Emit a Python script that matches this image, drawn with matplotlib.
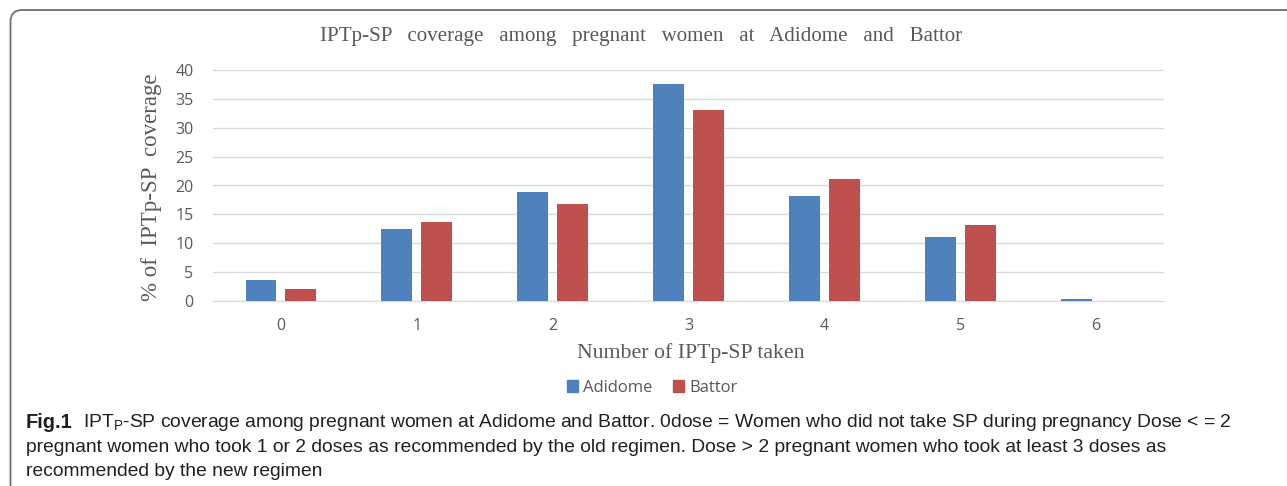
import numpy as np
import matplotlib
matplotlib.use('Agg')
from matplotlib import pyplot as plt
from matplotlib.patches import FancyBboxPatch, Patch

# data
doses = ['0', '1', '2', '3', '4', '5', '6']
adidome = [3.6, 12.4, 18.8, 37.5, 18.1, 11.0, 0.4]
battor = [2.0, 13.7, 16.8, 33.1, 21.1, 13.1, 0.0]
yticks = [0, 5, 10, 15, 20, 25, 30, 35, 40]

blue = '#4F81BD'
red = '#C0504D'
grey_text = '#595959'
serif = ['Liberation Serif', 'DejaVu Serif']
sans = ['Open Sans', 'DejaVu Sans']
narrow = ['Liberation Sans', 'DejaVu Sans']

plt.rcParams['mathtext.fontset'] = 'custom'
plt.rcParams['mathtext.rm'] = 'Liberation Sans'

fig = plt.figure(figsize=(12.87, 4.86), dpi=100)
W, H = 1287.0, 486.0

# rounded frame, only top and left visible
frame = FancyBboxPatch((10.5 / W, -0.2), 1.5, 1.2 - 10 / H,
                       boxstyle='round,pad=0,rounding_size=0.009',
                       transform=fig.transFigure, fill=False,
                       edgecolor='#6e6e6e', linewidth=1.3, mutation_aspect=W / H)
fig.patches.append(frame)

ax = fig.add_axes([213 / W, 1 - 301 / H, (1164 - 213) / W, (301 - 70) / H])
x = np.arange(len(doses))
w = 0.227
ax.bar(x - 0.147, adidome, w, color=blue, label='Adidome', zorder=3)
ax.bar(x + 0.147, battor, w, color=red, label='Battor', zorder=3)

ax.set_xlim(-0.5, 6.5)
ax.set_ylim(0, 40)
ax.set_yticks(yticks)
ax.set_xticks(x)
ax.set_xticklabels(doses)
ax.grid(axis='y', color='#D9D9D9', linewidth=1.0, zorder=0)
ax.set_axisbelow(True)
for s in ['top', 'right', 'left']:
    ax.spines[s].set_visible(False)
ax.spines['bottom'].set_color('#D9D9D9')
ax.tick_params(length=0, colors=grey_text, labelsize=11.5)
ax.tick_params(axis='y', pad=14)
ax.tick_params(axis='x', pad=12)
for lbl in ax.get_xticklabels() + ax.get_yticklabels():
    lbl.set_family(sans)

fig.text(641 / W, 1 - 37 / H,
         'IPTp-SP   coverage   among   pregnant   women   at   Adidome   and   Battor',
         ha='center', va='center', family=serif, fontsize=15.1, color=grey_text)
fig.text(152 / W, 1 - 187 / H, '% of  IPTp-SP  coverage', rotation=90,
         ha='center', va='center', family=serif, fontsize=16.5, color=grey_text)
fig.text(691 / W, 1 - 353 / H, 'Number of IPTp-SP taken',
         ha='center', va='center', family=serif, fontsize=15.7, color=grey_text)

handles = [Patch(color=blue, label='Adidome'), Patch(color=red, label='Battor')]
fig.legend(handles=handles, loc='center', bbox_to_anchor=(652 / W, 1 - 388 / H),
           ncol=2, frameon=False, prop={'family': sans, 'size': 12},
           labelcolor=grey_text, handlelength=0.7, handleheight=0.7,
           handletextpad=0.3, columnspacing=1.2)

# caption
cap_size = 13.9
x0 = 26
fig.canvas.draw()
r = fig.canvas.get_renderer()
t0 = fig.text(x0 / W, 1 - 422 / H, 'Fig.1', ha='left', va='center',
              family=narrow, fontsize=cap_size + 0.5, fontweight='bold', color='#231f20')
bb = t0.get_window_extent(renderer=r)
line1 = ('IPT$\\mathregular{_P}$-SP coverage among pregnant women at Adidome and Battor. '
         '0dose = Women who did not take SP during pregnancy Dose < = 2')
fig.text((bb.x1 + 10) / W, 1 - 422 / H, line1, ha='left', va='center',
         family=narrow, fontsize=cap_size, color='#231f20')
fig.text(x0 / W, 1 - 447 / H,
         'pregnant women who took 1 or 2 doses as recommended by the old regimen. '
         'Dose > 2 pregnant women who took at least 3 doses as',
         ha='left', va='center', family=narrow, fontsize=cap_size, color='#231f20')
fig.text(x0 / W, 1 - 471 / H, 'recommended by the new regimen',
         ha='left', va='center', family=narrow, fontsize=cap_size, color='#231f20')

plt.savefig('out.png', dpi=100)
